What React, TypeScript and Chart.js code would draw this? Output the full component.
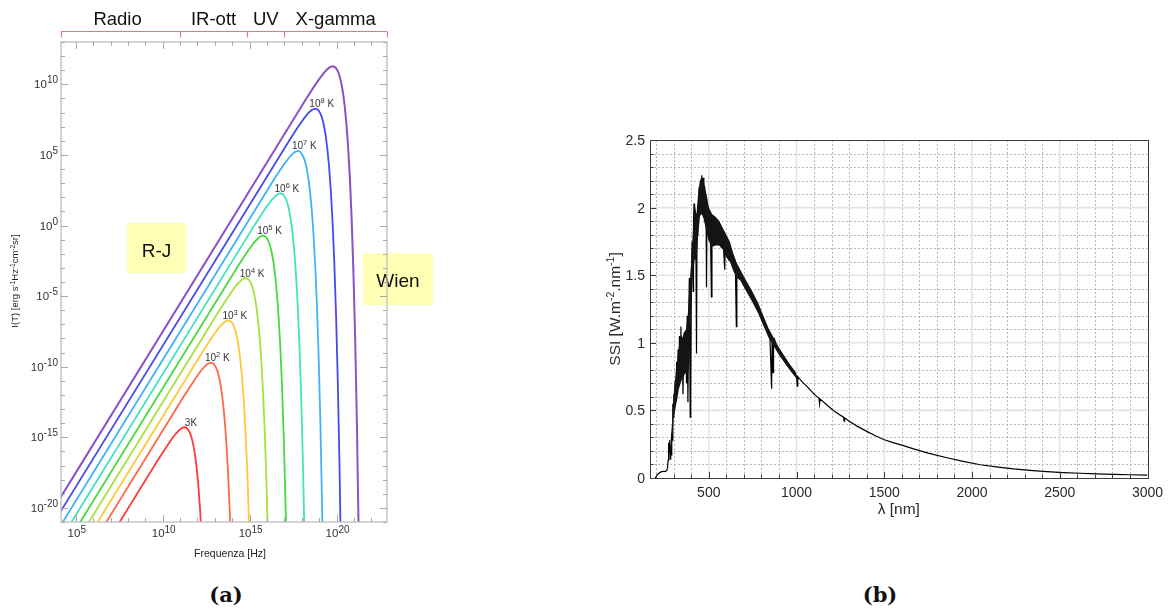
import React, { useEffect, useRef } from 'react';
import { Chart, registerables } from 'chart.js';

Chart.register(...registerables);

// ---------------- Panel (a): black-body curves, log10(nu) vs log10(I) ----------------
const curve3K: [number, number][] = [
  [4.0, -28.04], [9.75, -16.56], [10.25, -15.61], [10.5, -15.16], [10.75, -14.75], [10.95, -14.49],
  [11.1, -14.35], [11.25, -14.29], [11.35, -14.32], [11.45, -14.43], [11.55, -14.64], [11.65, -14.97],
  [11.75, -15.47], [11.85, -16.17], [11.95, -17.13], [12.05, -18.42], [12.15, -20.13], [12.25, -22.34],
];
const curve1e2: [number, number][] = [
  [4.0, -26.51], [11.27, -11.99], [11.77, -11.04], [12.02, -10.59], [12.27, -10.18], [12.47, -9.92],
  [12.62, -9.78], [12.77, -9.72], [12.87, -9.75], [12.97, -9.86], [13.07, -10.07], [13.17, -10.4],
  [13.27, -10.9], [13.37, -11.6], [13.47, -12.56], [13.57, -13.85], [13.67, -15.56], [13.77, -17.78],
  [13.87, -20.65], [13.97, -24.34],
];
const curve1e3: [number, number][] = [
  [4.0, -25.51], [12.27, -8.99], [12.77, -8.04], [13.02, -7.59], [13.27, -7.18], [13.47, -6.92],
  [13.62, -6.78], [13.77, -6.72], [13.87, -6.75], [13.97, -6.86], [14.07, -7.07], [14.17, -7.4],
  [14.27, -7.9], [14.37, -8.6], [14.47, -9.56], [14.57, -10.85], [14.67, -12.56], [14.77, -14.78],
  [14.87, -17.65], [14.97, -21.34], [15.07, -26.07],
];
const curve1e4: [number, number][] = [
  [4.0, -24.51], [13.27, -5.99], [13.77, -5.04], [14.02, -4.59], [14.27, -4.18], [14.47, -3.92],
  [14.62, -3.78], [14.77, -3.72], [14.87, -3.75], [14.97, -3.86], [15.07, -4.07], [15.17, -4.4],
  [15.27, -4.9], [15.37, -5.6], [15.47, -6.56], [15.57, -7.85], [15.67, -9.56], [15.77, -11.78],
  [15.87, -14.65], [15.97, -18.34], [16.07, -23.07],
];
const curve1e5: [number, number][] = [
  [4.0, -23.51], [14.27, -2.99], [14.77, -2.04], [15.02, -1.59], [15.27, -1.18], [15.47, -0.92],
  [15.62, -0.78], [15.77, -0.72], [15.87, -0.75], [15.97, -0.86], [16.07, -1.07], [16.17, -1.4],
  [16.27, -1.9], [16.37, -2.6], [16.47, -3.56], [16.57, -4.85], [16.67, -6.56], [16.77, -8.78],
  [16.87, -11.65], [16.97, -15.34], [17.07, -20.07], [17.17, -26.1],
];
const curve1e6: [number, number][] = [
  [4.0, -22.51], [15.27, 0.01], [15.77, 0.96], [16.02, 1.41], [16.27, 1.82], [16.47, 2.08],
  [16.62, 2.22], [16.77, 2.28], [16.87, 2.25], [16.97, 2.14], [17.07, 1.93], [17.17, 1.6],
  [17.27, 1.1], [17.37, 0.4], [17.47, -0.56], [17.57, -1.85], [17.67, -3.56], [17.77, -5.78],
  [17.87, -8.65], [17.97, -12.34], [18.07, -17.07], [18.17, -23.1],
];
const curve1e7: [number, number][] = [
  [4.0, -21.51], [16.27, 3.01], [16.77, 3.96], [17.02, 4.41], [17.27, 4.82], [17.47, 5.08],
  [17.62, 5.22], [17.77, 5.28], [17.87, 5.25], [17.97, 5.14], [18.07, 4.93], [18.17, 4.6],
  [18.27, 4.1], [18.37, 3.4], [18.47, 2.44], [18.57, 1.15], [18.67, -0.56], [18.77, -2.78],
  [18.87, -5.65], [18.97, -9.34], [19.07, -14.07], [19.17, -20.1], [19.27, -27.76],
];
const curve1e8: [number, number][] = [
  [4.0, -20.51], [17.27, 6.01], [17.77, 6.96], [18.02, 7.41], [18.27, 7.82], [18.47, 8.08],
  [18.62, 8.22], [18.77, 8.28], [18.87, 8.25], [18.97, 8.14], [19.07, 7.93], [19.17, 7.6],
  [19.27, 7.1], [19.37, 6.4], [19.47, 5.44], [19.57, 4.15], [19.67, 2.44], [19.77, 0.23],
  [19.87, -2.65], [19.97, -6.34], [20.07, -11.07], [20.17, -17.1], [20.27, -24.76],
];
const curve1e9: [number, number][] = [
  [4.0, -19.51], [18.27, 9.01], [18.77, 9.96], [19.02, 10.41], [19.27, 10.82], [19.47, 11.08],
  [19.62, 11.22], [19.77, 11.28], [19.87, 11.25], [19.97, 11.14], [20.07, 10.93], [20.17, 10.6],
  [20.27, 10.1], [20.37, 9.4], [20.47, 8.44], [20.57, 7.15], [20.67, 5.44], [20.77, 3.23],
  [20.87, 0.35], [20.97, -3.34], [21.07, -8.07], [21.17, -14.1], [21.27, -21.76],
];
const curves = [curve3K, curve1e2, curve1e3, curve1e4, curve1e5, curve1e6, curve1e7, curve1e8, curve1e9];
const curveColors = ['#ff3c3c', '#ff6848', '#ffc83a', '#a8e03c', '#48da3c', '#3ee4bd', '#3fb2fb', '#4848f0', '#8a52c6'];
const tagBase = ['3', '10', '10', '10', '10', '10', '10', '10', ''];
const tagSup = ['', '2', '3', '4', '5', '6', '7', '8', ''];
const tagSuffix = ['K', ' K', ' K', ' K', ' K', ' K', ' K', ' K', ''];
const freqMajorTicks = [5, 10, 15, 20];
const intensMajorTicks = [-20, -15, -10, -5, 0, 5, 10];
const bandEdges = [4.15, 11, 14.85, 17, 22.9];
const bandNames = ['Radio', 'IR-ott', 'UV', 'X-gamma'];

// ---------------- Panel (b): solar spectral irradiance ----------------
const specLam = [
  195, 205, 215, 228, 240, 252, 260, 265, 268, 271, 274, 277, 280, 283, 286, 289, 292, 295, 298, 301,
  305, 309, 313, 317, 321, 325, 329, 333, 337, 341, 345, 349, 353, 357, 361, 365, 369, 373, 377, 381,
  385, 389, 391, 394, 396, 398, 401, 405, 409, 411, 413, 416, 419, 423, 427, 430, 433, 437, 441, 445,
  449, 453, 457, 460, 464, 468, 472, 476, 480, 484, 487, 490, 494, 498, 502, 506, 510, 515, 518, 522,
  527, 532, 537, 542, 548, 554, 560, 566, 572, 578, 584, 591, 594, 600, 606, 612, 618, 624, 630, 638,
  646, 652, 657, 660, 668, 678, 690, 700, 720, 740, 760, 774, 790, 810, 830, 848, 858, 861, 866, 869,
  874, 885, 900, 926, 950, 975, 1000, 1004, 1007,
  1030, 1059, 1100, 1128, 1131, 1134, 1173, 1210, 1249, 1268, 1271, 1274, 1300, 1350, 1400, 1450, 1496,
  1550, 1600, 1667, 1750, 1857, 1950, 2047, 2150, 2237, 2330, 2427, 2520, 2617, 2710, 2807, 2900, 3000,
];
const specVal = [
  0.0, 0.02, 0.035, 0.045, 0.05, 0.048, 0.055, 0.075, 0.13, 0.26, 0.19, 0.28, 0.14, 0.24, 0.17, 0.33, 0.28, 0.55, 0.45, 0.62,
  0.5, 0.72, 0.58, 0.86, 0.66, 0.95, 0.72, 1.05, 0.76, 1.12, 0.8, 1.0, 0.62, 0.98, 1.08, 0.84, 1.06, 0.7, 1.2, 0.56,
  1.1, 1.48, 1.22, 0.45, 1.15, 0.62, 1.52, 1.75, 1.58, 1.38, 1.9, 2.03, 1.68, 1.92, 1.66, 0.92, 1.8, 2.02, 1.9, 2.15,
  2.0, 2.2, 2.06, 2.24, 2.08, 2.22, 2.05, 2.16, 1.98, 2.08, 1.41, 2.02, 1.88, 2.0, 1.84, 1.96, 1.78, 1.34, 1.74, 1.92,
  1.76, 1.9, 1.75, 1.88, 1.74, 1.86, 1.72, 1.84, 1.7, 1.8, 1.7, 1.54, 1.74, 1.68, 1.74, 1.64, 1.7, 1.64, 1.62, 1.58,
  1.56, 1.54, 1.12, 1.53, 1.52, 1.51, 1.48, 1.46, 1.41, 1.36, 1.31, 1.27, 1.23, 1.17, 1.11, 1.06, 0.66, 1.03, 0.78, 1.02,
  1.03, 0.97, 0.94, 0.875, 0.83, 0.79, 0.755, 0.68, 0.75,
  0.715, 0.678, 0.62, 0.59, 0.55, 0.585, 0.54, 0.5, 0.465, 0.45, 0.42, 0.445, 0.42, 0.38, 0.345, 0.312, 0.285,
  0.262, 0.243, 0.215, 0.184, 0.15, 0.123, 0.098, 0.08, 0.067, 0.056, 0.047, 0.04, 0.035, 0.031, 0.027, 0.024, 0.022,
];
const bandLam = [280, 290, 300, 310, 320, 330, 340, 350, 360, 370, 380, 390, 400, 410, 420, 430, 440, 450, 460, 470, 480, 490, 500, 520, 540, 560, 580, 600, 620, 640, 660, 680, 700, 740, 780, 840, 900, 960, 1000];
const bandHi = [0.24, 0.4, 0.62, 0.76, 0.86, 0.98, 1.06, 1.04, 1.08, 1.1, 1.2, 1.42, 1.6, 1.85, 2.02, 1.95, 2.12, 2.2, 2.23, 2.2, 2.14, 2.08, 2.0, 1.95, 1.93, 1.9, 1.85, 1.8, 1.75, 1.66, 1.59, 1.54, 1.49, 1.4, 1.3, 1.11, 0.965, 0.845, 0.775];
const bandLo = [0.14, 0.24, 0.45, 0.52, 0.58, 0.66, 0.7, 0.74, 0.76, 0.78, 0.76, 0.85, 1.3, 1.5, 1.62, 1.6, 1.8, 1.94, 1.95, 1.92, 1.86, 1.8, 1.75, 1.71, 1.72, 1.72, 1.69, 1.63, 1.6, 1.53, 1.48, 1.46, 1.41, 1.32, 1.22, 1.04, 0.91, 0.8, 0.735];
const lamTicks = [500, 1000, 1500, 2000, 2500, 3000];
const ssiTicks = [0, 0.5, 1, 1.5, 2, 2.5];
const ssiTickLabels = ['0', '0.5', '1', '1.5', '2', '2.5'];

const SANS = '"Liberation Sans", Arial, Helvetica, sans-serif';

type Seg = { t: string; sup?: boolean };

function drawRich(ctx: CanvasRenderingContext2D, segs: Seg[], x: number, y: number, align: string,
  size: number, supSize: number, raise: number, color: string) {
  const widths = segs.map((s) => {
    ctx.font = `${s.sup ? supSize : size}px ${SANS}`;
    return ctx.measureText(s.t).width;
  });
  const total = widths.reduce((a, b) => a + b, 0);
  let cx = align === 'right' ? x - total : align === 'center' ? x - total / 2 : x;
  ctx.textAlign = 'left';
  ctx.textBaseline = 'alphabetic';
  ctx.fillStyle = color;
  segs.forEach((s, i) => {
    ctx.font = `${s.sup ? supSize : size}px ${SANS}`;
    ctx.fillText(s.t, cx, s.sup ? y - raise : y);
    cx += widths[i];
  });
}

function seg(ctx: CanvasRenderingContext2D, x1: number, y1: number, x2: number, y2: number) {
  ctx.beginPath();
  ctx.moveTo(x1, y1);
  ctx.lineTo(x2, y2);
  ctx.stroke();
}

const leftDecor = {
  id: 'leftDecor',
  beforeDatasetsDraw(chart: any) {
    const ctx: CanvasRenderingContext2D = chart.ctx;
    ctx.save();
    ctx.fillStyle = '#ffffb6';
    ctx.fillRect(127, 223, 59, 50);
    ctx.fillRect(363, 253, 70, 52);
    ctx.fillStyle = '#111';
    ctx.font = `19px ${SANS}`;
    ctx.textAlign = 'center';
    ctx.textBaseline = 'alphabetic';
    ctx.fillText('R-J', 156.5, 257);
    ctx.fillText('Wien', 398, 287);
    ctx.restore();
  },
  afterDatasetsDraw(chart: any) {
    const ctx: CanvasRenderingContext2D = chart.ctx;
    const a = chart.chartArea;
    const x = chart.scales.x;
    const y = chart.scales.y;
    ctx.save();
    ctx.strokeStyle = '#bdbdbd';
    ctx.lineWidth = 1.3;
    ctx.strokeRect(a.left, a.top, a.right - a.left, a.bottom - a.top);
    ctx.strokeStyle = '#a9a9a9';
    ctx.lineWidth = 1;
    for (let d = Math.ceil(x.min); d <= Math.floor(x.max); d++) {
      const px = Math.round(x.getPixelForValue(d)) + 0.5;
      const len = d % 5 === 0 ? 7 : 4;
      seg(ctx, px, a.bottom, px, a.bottom - len);
      seg(ctx, px, a.top, px, a.top + len);
    }
    for (let d = Math.ceil(y.min); d <= Math.floor(y.max); d++) {
      const py = Math.round(y.getPixelForValue(d)) + 0.5;
      const len = d % 5 === 0 ? 7 : 4;
      seg(ctx, a.left, py, a.left + len, py);
      seg(ctx, a.right, py, a.right - len, py);
    }
    freqMajorTicks.forEach((e) => {
      drawRich(ctx, [{ t: '10' }, { t: String(e), sup: true }], x.getPixelForValue(e) + 1, a.bottom + 15, 'center', 11.5, 10, 4.5, '#333');
    });
    intensMajorTicks.forEach((e) => {
      drawRich(ctx, [{ t: '10' }, { t: String(e), sup: true }], a.left - 3, y.getPixelForValue(e) + 4, 'right', 11.5, 10, 5, '#333');
    });
    curves.forEach((pts, i) => {
      if (!tagBase[i]) return;
      let best = pts[0];
      pts.forEach((p) => { if (p[1] > best[1]) best = p; });
      const px = x.getPixelForValue(best[0]);
      const py = y.getPixelForValue(best[1]);
      const segs: Seg[] = [{ t: tagBase[i] }];
      if (tagSup[i]) segs.push({ t: tagSup[i], sup: true });
      segs.push({ t: tagSuffix[i] });
      drawRich(ctx, segs, px + 6.5, py - 1.5, 'center', 10, 7.5, 4, '#333');
    });
    ctx.fillStyle = '#222';
    ctx.font = `10.5px ${SANS}`;
    ctx.textAlign = 'center';
    ctx.fillText('Frequenza [Hz]', 230, 557);
    ctx.save();
    ctx.translate(18, 281);
    ctx.rotate(-Math.PI / 2);
    drawRich(ctx, [{ t: 'I(T) [erg s' }, { t: '-1', sup: true }, { t: 'Hz' }, { t: '-1', sup: true }, { t: 'cm' }, { t: '-2', sup: true }, { t: 'sr]' }], 0, 0, 'center', 9.5, 6.5, 3.5, '#222');
    ctx.restore();
    const yb = 31.5;
    ctx.strokeStyle = '#e57a7a';
    ctx.lineWidth = 1.2;
    seg(ctx, x.getPixelForValue(bandEdges[0]), yb, x.getPixelForValue(bandEdges[bandEdges.length - 1]), yb);
    bandEdges.forEach((b) => {
      const px = Math.round(x.getPixelForValue(b)) + 0.5;
      seg(ctx, px, yb, px, yb + 6);
    });
    ctx.fillStyle = '#111';
    ctx.font = `18.5px ${SANS}`;
    ctx.textAlign = 'center';
    bandNames.forEach((n, i) => {
      const cx = (x.getPixelForValue(bandEdges[i]) + x.getPixelForValue(bandEdges[i + 1])) / 2;
      ctx.fillText(n, cx - (i === 0 ? 3 : 0), 25);
    });
    ctx.restore();
  },
};

const rightDecor = {
  id: 'rightDecor',
  beforeDatasetsDraw(chart: any) {
    const ctx: CanvasRenderingContext2D = chart.ctx;
    const a = chart.chartArea;
    const x = chart.scales.x;
    const y = chart.scales.y;
    ctx.save();
    ctx.lineWidth = 1;
    ctx.strokeStyle = '#b9b9b9';
    ctx.setLineDash([2, 2]);
    for (let i = 2; i < 30; i++) {
      if (i % 5 === 0) continue;
      const px = Math.round(x.getPixelForValue(i * 100)) + 0.5;
      seg(ctx, px, a.top, px, a.bottom);
    }
    for (let i = 1; i < 25; i++) {
      if (i % 5 === 0) continue;
      const py = Math.round(y.getPixelForValue(i / 10)) + 0.5;
      seg(ctx, a.left, py, a.right, py);
    }
    ctx.setLineDash([]);
    ctx.strokeStyle = '#e3e3e3';
    ctx.lineWidth = 1.6;
    lamTicks.forEach((l) => {
      if (l >= x.max) return;
      const px = x.getPixelForValue(l);
      seg(ctx, px, a.top, px, a.bottom);
    });
    ssiTicks.forEach((v) => {
      if (v <= y.min || v >= y.max) return;
      const py = y.getPixelForValue(v);
      seg(ctx, a.left, py, a.right, py);
    });
    ctx.restore();
  },
  afterDatasetsDraw(chart: any) {
    const ctx: CanvasRenderingContext2D = chart.ctx;
    const a = chart.chartArea;
    const x = chart.scales.x;
    const y = chart.scales.y;
    ctx.save();
    ctx.strokeStyle = '#3c3c3c';
    ctx.lineWidth = 1;
    ctx.strokeRect(Math.round(a.left) + 0.5, Math.round(a.top) + 0.5, Math.round(a.right - a.left), Math.round(a.bottom - a.top));
    for (let i = 2; i < 30; i++) {
      const px = Math.round(x.getPixelForValue(i * 100)) + 0.5;
      const len = i % 5 === 0 ? 6 : 3.5;
      seg(ctx, px, a.bottom, px, a.bottom - len);
    }
    for (let i = 1; i < 25; i++) {
      const py = Math.round(y.getPixelForValue(i / 10)) + 0.5;
      const len = i % 5 === 0 ? 6 : 3.5;
      seg(ctx, a.left, py, a.left + len, py);
    }
    ctx.fillStyle = '#2a2a2a';
    ctx.font = `14px ${SANS}`;
    ctx.textBaseline = 'alphabetic';
    ctx.textAlign = 'center';
    lamTicks.forEach((l) => ctx.fillText(String(l), x.getPixelForValue(l), 497));
    ctx.textAlign = 'right';
    ssiTicks.forEach((v, i) => ctx.fillText(ssiTickLabels[i], a.left - 5, y.getPixelForValue(v) + 5));
    ctx.textAlign = 'center';
    ctx.font = `15.5px ${SANS}`;
    ctx.fillText('\u03bb [nm]', (a.left + a.right) / 2, 514);
    ctx.save();
    ctx.translate(160, (a.top + a.bottom) / 2);
    ctx.rotate(-Math.PI / 2);
    drawRich(ctx, [{ t: 'SSI [W.m' }, { t: '-2', sup: true }, { t: '.nm' }, { t: '-1', sup: true }, { t: ']' }], 0, 0, 'center', 15.5, 10.5, 6, '#2a2a2a');
    ctx.restore();
    ctx.restore();
  },
};

export default function App() {
  const leftRef = useRef<HTMLCanvasElement>(null);
  const rightRef = useRef<HTMLCanvasElement>(null);

  useEffect(() => {
    const c1 = new Chart(leftRef.current as HTMLCanvasElement, {
      type: 'line',
      data: {
        datasets: curves.map((pts, i) => ({
          label: `T${i}`,
          data: pts.map(([px, py]) => ({ x: px, y: py })),
          borderColor: curveColors[i],
          borderWidth: i === 8 ? 2 : 1.8,
          pointRadius: 0,
          fill: false,
          tension: 0,
        })),
      },
      options: {
        responsive: false,
        animation: false,
        devicePixelRatio: 1,
        events: [],
        layout: { padding: { left: 61, top: 42, right: 73, bottom: 48 } },
        scales: {
          x: { type: 'linear', min: 4.15, max: 22.9, display: false },
          y: { type: 'linear', min: -21, max: 13, display: false },
        },
        plugins: { legend: { display: false }, tooltip: { enabled: false } },
      } as any,
      plugins: [leftDecor as any],
    });

    const c2 = new Chart(rightRef.current as HTMLCanvasElement, {
      type: 'line',
      data: {
        datasets: [
          {
            label: 'hi',
            data: bandLam.map((l, i) => ({ x: l, y: bandHi[i] })),
            borderWidth: 0,
            borderColor: 'rgba(0,0,0,0)',
            pointRadius: 0,
            fill: false,
          },
          {
            label: 'lo',
            data: bandLam.map((l, i) => ({ x: l, y: bandLo[i] })),
            borderWidth: 0,
            borderColor: 'rgba(0,0,0,0)',
            backgroundColor: '#141414',
            pointRadius: 0,
            fill: '-1',
          },
          {
            label: 'SSI',
            data: specLam.map((l, i) => ({ x: l, y: specVal[i] })),
            borderColor: '#000',
            borderWidth: 1.2,
            pointRadius: 0,
            fill: false,
            tension: 0,
          },
        ],
      },
      options: {
        responsive: false,
        animation: false,
        devicePixelRatio: 1,
        events: [],
        layout: { padding: { left: 190, top: 140, right: 23.5, bottom: 92 } },
        scales: {
          x: { type: 'linear', min: 165, max: 3000, display: false },
          y: { type: 'linear', min: 0, max: 2.5, display: false },
        },
        plugins: { legend: { display: false }, tooltip: { enabled: false } },
      } as any,
      plugins: [rightDecor as any],
    });

    return () => {
      c1.destroy();
      c2.destroy();
    };
  }, []);

  const capStyle: React.CSSProperties = {
    position: 'absolute',
    top: 582,
    textAlign: 'center',
    font: 'bold 21px "DejaVu Serif", "Liberation Serif", serif',
    lineHeight: '26px',
    color: '#111',
  };

  return (
    <div style={{ position: 'absolute', left: 0, top: 0, width: 1171, height: 612, background: '#fff', overflow: 'hidden' }}>
      <canvas ref={leftRef} width={460} height={570} style={{ position: 'absolute', left: 0, top: 0, width: 460, height: 570 }} />
      <canvas ref={rightRef} width={711} height={570} style={{ position: 'absolute', left: 460, top: 0, width: 711, height: 570 }} />
      <div style={{ ...capStyle, left: 126, width: 200 }}>(a)</div>
      <div style={{ ...capStyle, left: 780, width: 200 }}>(b)</div>
    </div>
  );
}
